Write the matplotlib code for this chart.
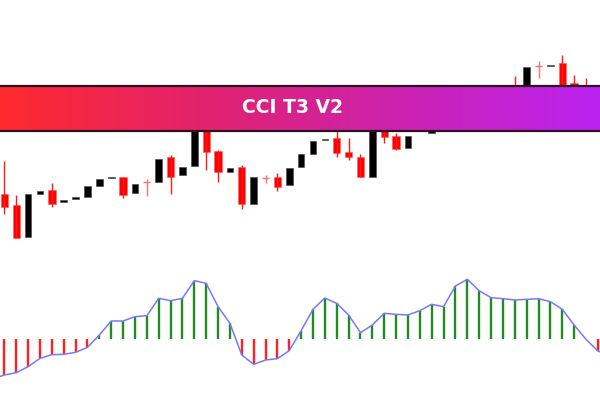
import matplotlib
matplotlib.use("Agg")

import matplotlib.pyplot as plt
import numpy as np
from matplotlib.colors import LinearSegmentedColormap


# Candles (price units, left to right). Some sit behind the banner.
opens = [
    106, 94.7, 62.7, 106, 109.7, 97.7, 101, 102.7, 114, 122.2,
    122.7, 106.7, 118, 118, 143, 124.7, 134, 175, 149, 128,
    133.3, 96, 122.3, 122.7, 114.7, 132.7, 146, 160.5, 162.3, 148.3,
    143.3, 123.3, 180, 164.3, 151.7, 172, 166.7, 185, 200, 210,
    196, 208, 213, 212, 200, 234, 234.5, 236.7, 216.7, 210,
    200,
]
closes = [
    93.3, 62, 106, 109, 96, 99.7, 103, 114, 120.7, 123.2,
    105, 116.3, 118, 141.3, 123, 133, 180, 148, 127.7, 131.7,
    96, 123, 122.3, 112.7, 131.7, 146, 159.3, 161.5, 146.7, 142.7,
    123.3, 190, 163.3, 151, 164.3, 190, 185, 200, 210, 196,
    208, 212, 205, 205, 233.3, 234, 235.5, 208, 205, 200,
    190,
]
highs = [
    139.3, 105, 106, 109, 117.3, 99.7, 103, 114, 120.7, 123.2,
    123.3, 116.3, 121.3, 141.3, 144.7, 133, 180, 175, 150, 131.7,
    134.7, 123, 125, 126.7, 131.7, 146, 159.3, 161.5, 175, 162.3,
    146, 190, 180, 166.7, 164.3, 190, 185, 200, 210, 212,
    208, 212, 215, 224, 233.3, 239.3, 235.5, 245, 225, 222,
    202,
]
lows = [
    86, 62, 62.7, 106, 93.3, 97.7, 101, 102.7, 114, 122.2,
    102.3, 106.7, 104.3, 118, 106, 124.7, 134, 130, 117.7, 128,
    90.7, 96, 116.7, 108.7, 114.7, 132.7, 146, 160.5, 143.3, 140,
    123.3, 123.3, 156.7, 150, 151.7, 172, 166.7, 185, 200, 196,
    196, 208, 205, 205, 200, 221.7, 234.5, 208, 205, 200,
    190,
]

# CCI T3 histogram, starting one bar before the first candle.
cci_start = -1
cci_values = [
    -120, -108, -101, -83, -58, -47, -46, -40, -25, 12,
    54, 54, 67, 70, 122, 115, 122, 175, 167, 97,
    47, -48, -76, -63, -59, -35, 25, 89, 123, 107,
    72, 19, 42, 77, 74, 72, 85, 104, 97, 159,
    179, 145, 124, 121, 117, 119, 121, 112, 89, 42,
    -1, -36, -50,
]

title = "CCI T3 V2"

opens = np.array(opens)
closes = np.array(closes)
highs = np.array(highs)
lows = np.array(lows)
candle_x = np.arange(len(opens))

cci = np.array(cci_values)
cci_x = np.arange(len(cci)) + cci_start

fig = plt.figure(figsize=(6, 4), dpi=100)

x_limits = (-0.371, 50.18)

# Price panel
ax_price = fig.add_axes([0, 150 / 400, 1, 250 / 400])
ax_price.set_xlim(*x_limits)
ax_price.set_ylim(50, 300)
ax_price.axis("off")

up = closes > opens
down = closes < opens
doji = closes == opens

ax_price.vlines(
    candle_x[down],
    lows[down],
    highs[down],
    color="#ff1a1a",
    linewidth=1.0,
)
ax_price.bar(
    candle_x[down],
    (opens - closes)[down],
    0.62,
    bottom=closes[down],
    color="#ff0000",
    edgecolor="#ff6060",
    linewidth=0.4,
)
ax_price.bar(
    candle_x[up],
    (closes - opens)[up],
    0.56,
    bottom=opens[up],
    color="#000000",
    edgecolor="#444444",
    linewidth=0.4,
)

# Doji crosses
ax_price.vlines(
    candle_x[doji],
    lows[doji],
    highs[doji],
    color="#ff7070",
    linewidth=1.0,
)
ax_price.hlines(
    opens[doji],
    candle_x[doji] - 0.3,
    candle_x[doji] + 0.3,
    color="#ff7070",
    linewidth=1.0,
)

# CCI panel
ax_cci = fig.add_axes([0, 0, 1, 150 / 400])
ax_cci.set_xlim(*x_limits)
ax_cci.set_ylim(-183, 267)
ax_cci.axis("off")

positive = cci >= 0
ax_cci.vlines(
    cci_x[positive],
    0,
    cci[positive],
    color="#228b22",
    linewidth=1.7,
)
ax_cci.vlines(
    cci_x[~positive],
    0,
    cci[~positive],
    color="#ff2020",
    linewidth=1.7,
)
ax_cci.plot(
    cci_x,
    cci,
    color="#7878ff",
    linewidth=1.1,
    zorder=3,
)

# Title banner with gradient
ax_banner = fig.add_axes([0, (400 - 131) / 400, 1, 45.5 / 400])
banner_cmap = LinearSegmentedColormap.from_list(
    "banner",
    ["#ff2a2d", "#e2236d", "#cc22b0", "#bb22f0"],
)
gradient = np.linspace(0, 1, 256)[None, :]
ax_banner.imshow(
    gradient,
    aspect="auto",
    cmap=banner_cmap,
    extent=[0, 1, 0, 1],
)
ax_banner.set_xlim(0, 1)
ax_banner.set_ylim(0, 1)
ax_banner.axis("off")

for edge in (0, 1):
    ax_banner.axhline(
        edge,
        color="#2a1020",
        linewidth=1.6,
        clip_on=False,
    )

ax_banner.text(
    0.488,
    0.52,
    title,
    color="white",
    fontsize=13.5,
    fontweight="bold",
    family=["DejaVu Sans"],
    ha="center",
    va="center",
)

fig.savefig("out.png", dpi=100)
plt.close(fig)
